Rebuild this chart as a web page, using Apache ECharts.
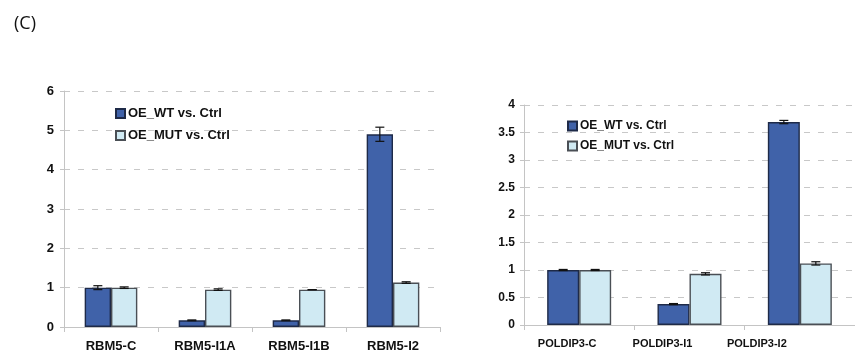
<!DOCTYPE html>
<html>
<head>
<meta charset="utf-8">
<script src="https://cdn.jsdelivr.net/npm/echarts@6/dist/echarts.min.js"></script>
<style>
  html, body { margin: 0; padding: 0; background: #fff; }
  #chart { width: 855px; height: 356px; }
</style>
</head>
<body>
<div id="chart"></div>
<script>
// Relative expression, overexpression of wild-type vs. mutant
const seriesNames = ['OE_WT vs. Ctrl', 'OE_MUT vs. Ctrl'];

const rbmCategories = ['RBM5-C', 'RBM5-I1A', 'RBM5-I1B', 'RBM5-I2'];
const rbmWT = [1.0, 0.17, 0.17, 4.9];
const rbmWTErr = [0.05, 0.01, 0.01, 0.18];
const rbmMUT = [1.0, 0.95, 0.95, 1.13];
const rbmMUTErr = [0.02, 0.02, 0.0, 0.02];
const rbmTicks = [0, 1, 2, 3, 4, 5, 6];

const polCategories = ['POLDIP3-C', 'POLDIP3-I1', 'POLDIP3-I2'];
const polWT = [1.0, 0.38, 3.69];
const polWTErr = [0.01, 0.01, 0.03];
const polMUT = [1.0, 0.93, 1.12];
const polMUTErr = [0.01, 0.02, 0.03];
const polTicks = [0, 0.5, 1, 1.5, 2, 2.5, 3, 3.5, 4];

const darkFill = '#4062a9';
const darkEdge = '#1e2a48';
const lightFill = '#d0eaf3';
const lightEdge = '#4a4f55';
const gridGray = '#c8c8c8';
const axisGray = '#c4c4c4';
const fontFam = '"Liberation Sans", Arial, sans-serif';

// I-shaped error bar drawn over one of the two grouped bars
function errorSeries(name, gridIdx, side, values, errs, gapFrac) {
  return {
    type: 'custom',
    name: name + ' err',
    xAxisIndex: gridIdx,
    yAxisIndex: gridIdx,
    z: 5,
    silent: true,
    data: values.map((v, i) => [i, v, errs[i]]),
    renderItem: function (params, api) {
      const idx = api.value(0), v = api.value(1), e = api.value(2);
      const catW = api.size([1, 0])[0];
      const barW = catW * (1 - gapFrac) / 2;
      const c = api.coord([idx, v]);
      const x = c[0] + side * barW / 2;
      const top = api.coord([idx, v + e])[1];
      const bot = api.coord([idx, v - e])[1];
      const cap = 4.5;
      const st = { stroke: '#111', lineWidth: 1.2 };
      return {
        type: 'group',
        children: [
          { type: 'line', shape: { x1: x, y1: top, x2: x, y2: bot }, style: st },
          { type: 'line', shape: { x1: x - cap, y1: top, x2: x + cap, y2: top }, style: st },
          { type: 'line', shape: { x1: x - cap, y1: bot, x2: x + cap, y2: bot }, style: st }
        ]
      };
    }
  };
}

function barSeries(name, gridIdx, values, fill, edge, gap) {
  return {
    type: 'bar',
    name: name,
    xAxisIndex: gridIdx,
    yAxisIndex: gridIdx,
    data: values,
    barGap: '0%',
    barCategoryGap: gap,
    itemStyle: { color: fill, borderColor: edge, borderWidth: 1.4 },
    emphasis: { disabled: true }
  };
}

function yAxisDef(gridIdx, ticks, size, margin) {
  return {
    type: 'value',
    gridIndex: gridIdx,
    min: ticks[0],
    max: ticks[ticks.length - 1],
    interval: ticks[1] - ticks[0],
    axisLine: { show: true, lineStyle: { color: axisGray, width: 1 } },
    axisTick: { show: true, length: 4, lineStyle: { color: axisGray } },
    axisLabel: { color: '#111', fontWeight: 'bold', fontSize: size, fontFamily: fontFam, margin: margin },
    splitLine: { show: true, lineStyle: { color: gridGray, type: [6, 8], width: 1 } }
  };
}

function legendDef(left, top, size, gap) {
  return {
    data: seriesNames.map(n => ({ name: n })),
    orient: 'vertical',
    left: left, top: top,
    padding: 0,
    itemWidth: 9, itemHeight: 9, itemGap: gap,
    icon: 'rect',
    textStyle: { fontFamily: fontFam, fontWeight: 'bold', fontSize: size, color: '#111', padding: [0, 0, 0, -2] }
  };
}

const chart = echarts.init(document.getElementById('chart'), null, { renderer: 'canvas' });

chart.setOption({
  animation: false,
  backgroundColor: '#fff',
  title: {
    text: '(C)',
    left: 9,
    top: 10,
    textStyle: { fontFamily: '"Open Sans", "Noto Sans", sans-serif', fontWeight: 'normal', fontSize: 18, color: '#111' }
  },
  grid: [
    { left: 64, top: 91, width: 376, bottom: 29 },
    { left: 524, top: 105, right: -8, bottom: 31 }
  ],
  legend: [legendDef(115, 107, 13, 9), legendDef(567, 120, 12, 8)],
  xAxis: [
    {
      type: 'category',
      gridIndex: 0,
      data: rbmCategories,
      axisLine: { lineStyle: { color: axisGray } },
      axisTick: { show: true, length: 5, lineStyle: { color: axisGray } },
      axisLabel: { color: '#111', fontWeight: 'bold', fontSize: 13, fontFamily: fontFam, margin: 13, interval: 0 }
    },
    {
      type: 'category',
      gridIndex: 1,
      data: polCategories.map((c, i) => ({ value: c, textStyle: { padding: [0, [24, 54, 86][i], 0, 0] } })),
      axisLine: { lineStyle: { color: axisGray } },
      axisTick: { show: true, length: 5, lineStyle: { color: axisGray } },
      axisLabel: { color: '#111', fontWeight: 'bold', fontSize: 11, fontFamily: fontFam, margin: 13, interval: 0 }
    }
  ],
  yAxis: [yAxisDef(0, rbmTicks, 13, 10), yAxisDef(1, polTicks, 12, 9)],
  series: [
    barSeries(seriesNames[0], 0, rbmWT, darkFill, darkEdge, '44%'),
    barSeries(seriesNames[1], 0, rbmMUT, lightFill, lightEdge, '44%'),
    barSeries(seriesNames[0], 1, polWT, darkFill, darkEdge, '42%'),
    barSeries(seriesNames[1], 1, polMUT, lightFill, lightEdge, '42%'),
    errorSeries(seriesNames[0], 0, -1, rbmWT, rbmWTErr, 0.44),
    errorSeries(seriesNames[1], 0, 1, rbmMUT, rbmMUTErr, 0.44),
    errorSeries(seriesNames[0], 1, -1, polWT, polWTErr, 0.42),
    errorSeries(seriesNames[1], 1, 1, polMUT, polMUTErr, 0.42)
  ]
});
</script>
</body>
</html>
